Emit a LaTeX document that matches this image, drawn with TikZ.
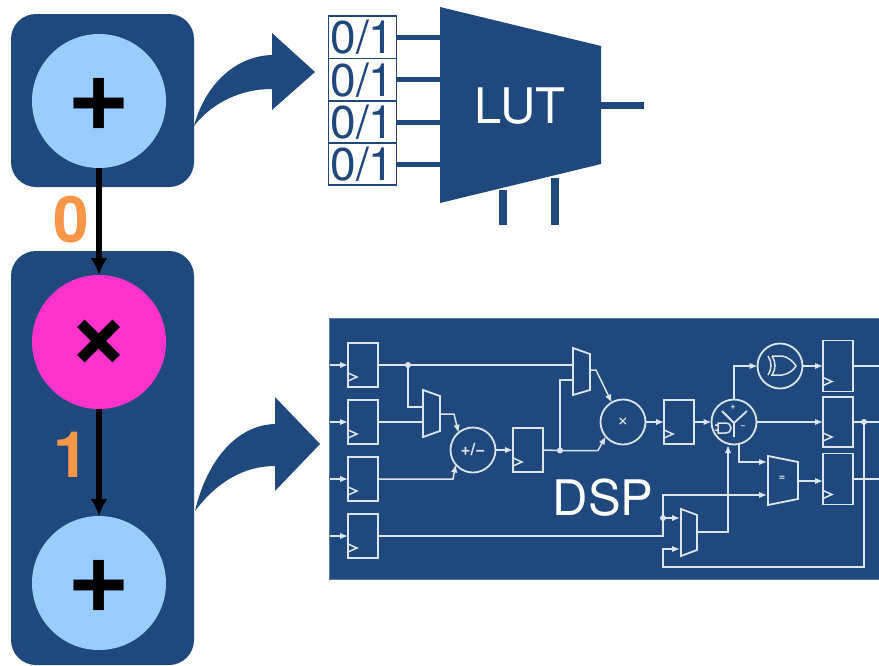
\documentclass[tikz,border=0pt]{standalone}
\usepackage{fontspec}
\setmainfont{TeX Gyre Heros}
\usetikzlibrary{arrows.meta}
\definecolor{navy}{HTML}{1F497D}
\definecolor{skyop}{HTML}{99CCFF}
\definecolor{pinkop}{HTML}{FF33CC}
\definecolor{orangelbl}{HTML}{F79646}
\definecolor{wirec}{HTML}{DCE4EE}
\tikzset{>=Latex,line width=.8pt,
  every node/.style={inner sep=0pt,outer sep=0pt},
  fabric/.style={fill=navy,rounded corners=25pt,minimum width=183pt},
  opnode/.style={circle,minimum size=134pt,fill=skyop},
  optxt/.style={font=\fontsize{108}{108}\selectfont\bfseries},
  flow/.style={-{Latex[length=17pt,width=17pt]},line width=6.5pt,draw=black},
  bitlbl/.style={font=\fontsize{64}{64}\selectfont\bfseries,text=orangelbl},
  bitbox/.style={draw=navy,fill=white,line width=1.5pt,minimum width=68pt,minimum height=42.4pt,
    text=navy,font=\fontsize{46}{46}\selectfont},
  lutwire/.style={draw=navy,line width=5pt},
  bigtxt/.style={text=white,font=\fontsize{49}{49}\selectfont},
  wire/.style={draw=wirec,line width=1.5pt},
  sig/.style={wire,-{Latex[length=8pt,width=6.5pt]}},
  reg/.style={wire,line width=1.8pt,minimum width=30pt},
  unit/.style={wire,line width=1.8pt,circle,minimum size=45pt,text=wirec},
  mux/.style={wire,line width=1.8pt}}
\begin{document}
\begin{tikzpicture}[x=1pt,y=-1pt]
\useasboundingbox (0,0) rectangle (879,665);
% left column
\node[fabric,minimum height=173pt] (box1) at (102.5,100.5) {};
\node[fabric,minimum height=414pt] (box2) at (102.5,458) {};
\node[opnode] (add1) at (99,101) {};
\node[opnode,fill=pinkop] (mul) at (99,342) {};
\node[opnode] (add2) at (99,583) {};
\node[optxt] (add1txt) at (99,104.5) {+};
\node[optxt] (multxt) at (99,344.5) {×};
\node[optxt] (add2txt) at (99,586.5) {+};
\draw[flow] (add1)--(mul);\draw[flow] (mul)--(add2);
\node[bitlbl] (zero) at (71,220) {0};
\node[bitlbl] (one) at (71.5,455) {1};
% curved arrows
\fill[navy] (194,126) .. controls (205,85) and (235,56) .. (272,55)--(272,33)--(315,72)--(272,110)--(272,89) .. controls (240,89) and (212,103) .. (194,126)--cycle;
\fill[navy] (195,511) .. controls (207,460) and (237,425) .. (275,424)--(275,397)--(320,444)--(275,491)--(275,466) .. controls (243,466) and (216,483) .. (195,511)--cycle;
% LUT
\fill[navy] (440,7)--(601,46)--(601,164)--(440,203)--cycle;
\coordinate (lutin) at (440,105);\coordinate (lutout) at (601,105);\coordinate (lutend) at (644,105);
\coordinate (sela) at (503,190);\coordinate (selb) at (555,178);
\coordinate (selaend) at (503,225);\coordinate (selbend) at (555,225);
\foreach \i/\y in {1/37.3,2/79.7,3/122,4/164}{
  \node[bitbox] (bit\i) at (362.5,\y) {0/1};
  \draw[lutwire] (bit\i.east)--(bit\i.east -| lutin);}
\draw[lutwire,line width=7pt] (lutout)--(lutend);
\draw[lutwire,line width=8pt] (sela)--(selaend) (selb)--(selbend);
\node[bigtxt] (lut) at (520,106) {LUT};
% DSP block
\node[fill=navy,draw=navy!75!white,line width=.6pt,minimum width=551pt,minimum height=261pt] (dsp) at (605,448.5) {};
\node[bigtxt] (dsptxt) at (603,498) {DSP};
\foreach \n/\x/\y/\h in {r1/363/365/44,r2/363/422/44,r3/363/479/44,r4/363/536/44,r5/528/450/44,r6/679/422/44,r7/838/366/51,r8/838/422/50,r9/838/479/51}{
  \node[reg,minimum height=\h pt] (\n) at (\x,\y) {};
  \draw[wire] ([shift={(0,-6)}]\n.south west)--++(9,-4)--++(-9,-4);}
\foreach \i in {1,...,4} \draw[sig] (r\i.west -| dsp.west)--(r\i.west);
\node[unit,font=\fontsize{17}{17}\selectfont\bfseries] (addsub) at (473,450) {+/−};
\node[unit,font=\fontsize{20}{20}\selectfont] (prod) at (623,422) {×};
\node[unit] (alu) at (734,422) {};
\node[unit] (xorop) at (780,366) {};
% muxes
\draw[mux] (423,390)--(440,396)--(440,431)--(423,437)--cycle;
\draw[mux] (573,348)--(590,354)--(590,390)--(573,395)--cycle;
\draw[mux] (681,509)--(697,515)--(697,550)--(681,556)--cycle;
\draw[mux] (768,456)--(798,462)--(798,499)--(768,505)--cycle;
\node[text=wirec,font=\fontsize{11}{11}\selectfont\bfseries] (eqtxt) at (782,478) {=};
% wires
\coordinate (d1) at (408,365);\coordinate (d2) at (560,450.5);\coordinate (d3) at (663,518);\coordinate (d4) at (864,422);
\coordinate (m1a) at (423,407);\coordinate (m1o) at (440,414);\coordinate (m2a) at (573,365);\coordinate (m2b) at (573,380);\coordinate (m2o) at (590,370);
\coordinate (m3a) at (680,518);\coordinate (m3b) at (680,549);\coordinate (m3o) at (697,532);\coordinate (m4a) at (767,462);\coordinate (m4b) at (767,495);\coordinate (m4o) at (798,481);
\draw[wire] (r1.east)--(m2a);
\draw[wire] (d1)--(d1 |- m1a)--(m1a);
\draw[wire] (r2.east)--(r2.east -| m1a);
\draw[sig] (m1o)--(454,414)--(addsub.130);
\draw[sig] (r3.east)--(453,479)--(addsub.220);
\draw[sig] (addsub.east)--(r5.west);
\draw[wire] (r5.east)--(d2);
\draw[wire] (d2)--(d2 |- m2b)--(m2b);
\draw[sig] (d2)--(598,450.5)--(prod.220);
\draw[sig] (m2o)--(596,370)--(prod.120);
\draw[sig] (prod.east)--(r6.west);
\draw[sig] (r6.east)--(alu.west);
\draw[sig] (alu.north)--(alu.north |- xorop)--(xorop.west);
\draw[sig] (xorop.east)--(r7.west |- xorop);
\draw[sig] (alu.east)--(r8.west);
\draw[sig] (739,444)--(739,462)--(m4a);
\draw[sig] (m4o)--(m4o -| r9.west);
\draw[wire] (r4.east)--(663,536)--(d3);
\draw[sig] (d3)--(m3a);
\draw[sig] (d3)--(663,495)--(m4b);
\draw[sig] (m3o)--(728,532)--(728,445);
\draw[sig] (d4)--(864,567)--(663,567)--(663,549)--(m3b);
\draw[wire] (r7.east)--(r7.east -| dsp.east);
\draw[wire] (r8.east)--(r8.east -| dsp.east);
\draw[wire] (r9.east)--(r9.east -| dsp.east);
\foreach \d in {d1,d2,d3,d4} \fill[wirec] (\d) circle (3pt);
% inside the alu and the xor
\draw[mux] (722,411)--(734,423)--(747,411) (734,423)--(734,437);
\draw[wire] (718,423)--(725,423) .. controls (729,423) and (731,425) .. (731,428) .. controls (731,431) and (729,433) .. (725,433)--(718,433)--cycle (715,425)--(718,425) (715,430)--(718,430);
\node[text=wirec,font=\fontsize{9}{9}\selectfont\bfseries] (alup) at (733,407) {+};
\node[text=wirec,font=\fontsize{9}{9}\selectfont\bfseries] (alum) at (743,427) {−};
\draw[wire] (772,356)--(782,356) .. controls (788,357) and (793,361) .. (796,366) .. controls (793,371) and (788,374) .. (782,375)--(772,375) .. controls (776,369) and (776,362) .. (772,356);
\draw[wire] (768,356) .. controls (772,362) and (772,369) .. (768,375);
\end{tikzpicture}
\end{document}
